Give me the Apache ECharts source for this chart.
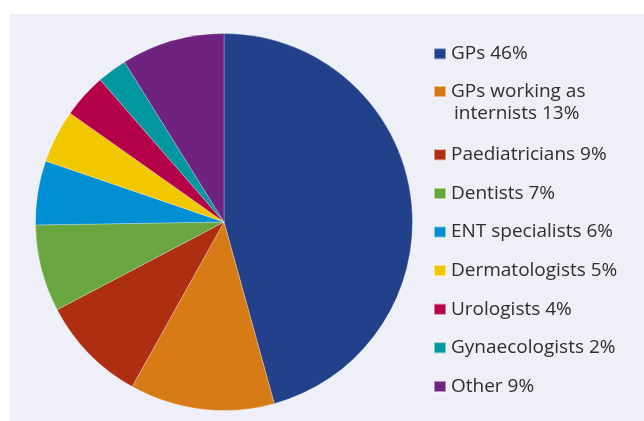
<!DOCTYPE html>
<html>
<head>
<meta charset="utf-8">
<script src="https://cdn.jsdelivr.net/npm/echarts@6/dist/echarts.min.js"></script>
<style>
html,body{margin:0;padding:0;background:#fff;}
#chart{width:644px;height:421px;}
</style>
</head>
<body>
<div id="chart"></div>
<script>
// Categories (clockwise from 12 o'clock)
const categories = ['GPs', 'GPs working as internists', 'Paediatricians', 'Dentists', 'ENT specialists', 'Dermatologists', 'Urologists', 'Gynaecologists', 'Other'];
// Printed percentages in the legend
const shares = [46, 13, 9, 7, 6, 5, 4, 2, 9];
// Slice sizes (%)
const values = [45.7, 12.4, 9.2, 7.45, 5.5, 4.55, 3.8, 2.55, 8.85];
const colors = ['#22418a', '#d67b15', '#ae2e11', '#6aa640', '#008fd3', '#f1c800', '#b30048', '#00979e', '#6e2380'];

const labels = categories.map((c, i) => c + ' ' + shares[i] + '%');
const FONT = '"Open Sans", "Noto Sans", sans-serif';
const textStyle = { fontFamily: FONT, fontSize: 19, color: '#2e2e2e', lineHeight: 23 };

const chart = echarts.init(document.getElementById('chart'), null, { renderer: 'canvas' });
chart.setOption({
  animation: false,
  backgroundColor: '#ffffff',
  graphic: [
    { type: 'rect', z: -10, shape: { x: 10, y: 14, width: 634, height: 407 }, style: { fill: '#efeff8' } },
    { type: 'text', x: 454, y: 114, style: { text: 'internists ' + shares[1] + '%', font: '19px ' + FONT, fill: '#2e2e2e', verticalAlign: 'middle' } }
  ],
  legend: [
    {
      orient: 'vertical', left: 433, top: 42.3, padding: 0, itemGap: 14.7,
      itemWidth: 12, itemHeight: 11, icon: 'rect', selectedMode: false,
      data: labels.slice(0, 2),
      formatter: n => n === labels[1] ? 'GPs working as' : n,
      textStyle: textStyle
    },
    {
      orient: 'vertical', left: 433, top: 143.3, padding: 0, itemGap: 15.6,
      itemWidth: 12, itemHeight: 11, icon: 'rect', selectedMode: false,
      data: labels.slice(2),
      textStyle: textStyle
    }
  ],
  series: [{
    type: 'pie',
    center: [224, 222],
    radius: [0, 188.5],
    startAngle: 90,
    clockwise: true,
    label: { show: false },
    labelLine: { show: false },
    emphasis: { disabled: true },
    itemStyle: { borderColor: 'rgba(255,255,255,0.45)', borderWidth: 0.6 },
    data: labels.map((l, i) => ({ name: l, value: values[i], itemStyle: { color: colors[i] } }))
  }]
});
</script>
</body>
</html>
